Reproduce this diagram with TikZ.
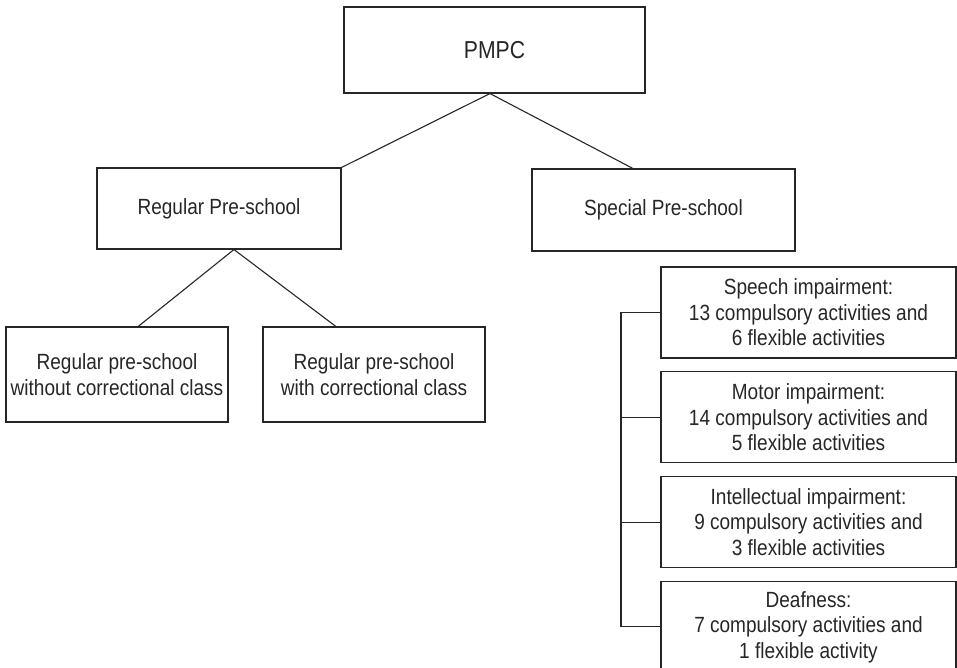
\documentclass[tikz,border=0pt]{standalone}
\usepackage{fontspec}
\setmainfont{Liberation Sans}[FakeStretch=0.865]
\usetikzlibrary{positioning}
\usetikzlibrary{calc}

\begin{document}
\begin{tikzpicture}[
            x=1pt, y=-1pt,
            squarednode/.style={rectangle, draw=black!85, line width=1.1pt, text=black!85, inner sep=0pt, align=center, font=\fontsize{22}{25.5}\selectfont},
            listnode/.style={squarednode, minimum width=295pt, minimum height=91pt},
            connector/.style={draw=black!85, line width=1.1pt},
            node distance=12.7pt,
        ]
            \useasboundingbox (0,0) rectangle (957,667);
            % Nodes
            \node[squarednode, minimum width=301pt, minimum height=86pt, font=\fontsize{24.5}{25}\selectfont] (pmpc) at (494.5,50) {PMPC};
            \node[squarednode, minimum width=244pt, minimum height=81pt] (regular) at (219,208.5) {Regular Pre-school};
            \node[squarednode, minimum width=263pt, minimum height=82pt] (special) at (663.5,210) {Special Pre-school};
            \node[squarednode, minimum width=222pt, minimum height=95pt, font=\fontsize{22}{26}\selectfont] (without) at (117,374.5) {Regular pre-school\\without correctional class};
            \node[squarednode, minimum width=222pt, minimum height=95pt, font=\fontsize{22}{26}\selectfont] (with) at (374,374.5) {Regular pre-school\\with correctional class};
            \node[listnode] (speech) at (808.5,312.5) {Speech impairment:\\13 compulsory activities and\\6 flexible activities};
            \node[listnode, below= of speech] (motor) {Motor impairment:\\14 compulsory activities and\\5 flexible activities};
            \node[listnode, below= of motor] (intellect) {Intellectual impairment:\\9 compulsory activities and\\3 flexible activities};
            \node[listnode, below= of intellect] (deafness) {Deafness:\\7 compulsory activities and\\1 flexible activity};
            \coordinate (spine) at (621,0);
%
%            % Lines
            \coordinate (pmpcfoot) at ($(pmpc.south west)!0.485!(pmpc.south east)$);
            \coordinate (regularfoot) at ($(regular.south west)!0.561!(regular.south east)$);
            \draw[connector] (pmpcfoot) -- (regular.north east);
            \draw[connector] (pmpcfoot) -- ($(special.north west)!0.384!(special.north east)$);
            \draw[connector] (regularfoot) -- ($(without.north west)!0.595!(without.north east)$);
            \draw[connector] (regularfoot) -- ($(with.north west)!0.329!(with.north east)$);
            \draw[connector] (speech.west) -- (speech.west -| spine) -- (deafness.west -| spine) -- (deafness.west);
            \foreach \n in {motor, intellect}
                \draw[connector] (\n.west) -- (\n.west -| spine);
        \end{tikzpicture}
\end{document}
